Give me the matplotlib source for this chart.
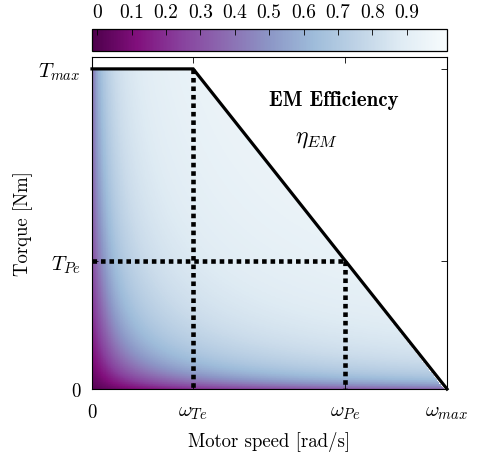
import numpy as np
import matplotlib
matplotlib.use("Agg")
import matplotlib.pyplot as plt

plt.rcParams['font.family'] = ['cmr10', 'DejaVu Serif']
plt.rcParams['mathtext.fontset'] = 'cm'
plt.rcParams['axes.formatter.use_mathtext'] = True

# operating envelope (rad/s, Nm)
w_te = 285.0
w_pe = 713.0
w_max = 1000.0
t_max = 100.0
t_pe = 40.0
t_top = 103.8

# loss model coefficients, per-unit of rated power
k_const = 0.014
w_knee = 0.015
k_copper = 0.002
k_speed = 0.01
t_floor = 0.015

cbar_ticks = [0, 0.1, 0.2, 0.3, 0.4, 0.5, 0.6, 0.7, 0.8, 0.9]
cbar_labels = ['0', '0.1', '0.2', '0.3', '0.4', '0.5', '0.6', '0.7', '0.8', '0.9']

n = 500
w = np.linspace(0, w_max, n)
t = np.linspace(t_floor * t_max, t_top, n)
W, T = np.meshgrid(w, t)
wp, tp = W / w_max, T / t_max
p_out = wp * tp
loss = (k_const * (1 - np.exp(-wp / w_knee)) + k_copper * tp ** 2
        + k_speed * wp)
eta = p_out / (p_out + loss)

# torque limit curve
limit = np.where(W <= w_te, t_max, t_max * (w_max - W) / (w_max - w_te))
eta = np.ma.masked_where(T > limit, eta)

cmap = plt.get_cmap('BuPu_r').copy()
cmap.set_bad('white')

fig = plt.figure(figsize=(4.78, 4.56), dpi=100)
ax = fig.add_axes([0.1925, 0.1447, 0.7427, 0.7287])
im = ax.imshow(eta, origin='lower', extent=[0, w_max, 0, t_top], aspect='auto',
               cmap=cmap, vmin=-0.015, vmax=1.017, interpolation='nearest')

dots = dict(color='black', lw=3.3, dashes=(1, 0.85), dash_capstyle='butt')
ax.plot([w_te, w_te], [t_max, 0], **dots)
ax.plot([0, w_pe], [t_pe, t_pe], **dots)
ax.plot([w_pe, w_pe], [t_pe, 0], **dots)
ax.plot([0, w_te, w_max], [t_max, t_max, 0], color='black', lw=2.3,
        solid_joinstyle='miter', clip_on=False)

ax.set_xlim(0, w_max)
ax.set_ylim(0, t_top)
ax.set_xticks([0, w_te, w_pe, w_max])
ax.set_xticklabels(['0', r'$\omega_{Te}$', r'$\omega_{Pe}$', r'$\omega_{max}$'])
ax.set_yticks([0, t_pe, t_max])
ax.set_yticklabels(['0', r'$T_{Pe}$', r'$T_{max}$'])
ax.tick_params(direction='in', top=True, right=True, length=4, width=0.6,
               labelsize=13.5)
ax.tick_params(axis='x', pad=10)
ax.tick_params(axis='y', pad=8)
for lab in ax.get_xticklabels() + ax.get_yticklabels():
    if lab.get_text() != '0':
        lab.set_fontsize(15)
for s in ax.spines.values():
    s.set_linewidth(0.8)

ax.set_xlabel('Motor speed [rad/s]', fontsize=13.5)
ax.set_ylabel('Torque [Nm]', fontsize=13.5)
ax.xaxis.set_label_coords(0.5, -0.125)
ax.yaxis.set_label_coords(-0.166, 0.5)

ax.text(0.68, 0.872, 'EM Efficiency', transform=ax.transAxes, ha='center',
        va='center', fontsize=15, family='cmb10')
ax.text(0.632, 0.756, r'$\eta_{EM}$', transform=ax.transAxes, ha='center',
        va='center', fontsize=17)

cax = fig.add_axes([0.1925, 0.886, 0.7427, 0.048])
cb = fig.colorbar(im, cax=cax, orientation='horizontal')
cb.set_ticks(cbar_ticks)
cb.set_ticklabels(cbar_labels)
cax.xaxis.set_ticks_position('top')
cax.xaxis.set_label_position('top')
cax.tick_params(direction='in', length=4, width=0.6, labelsize=14, pad=6)
cb.outline.set_linewidth(0.9)

fig.savefig('out.png', dpi=100)
